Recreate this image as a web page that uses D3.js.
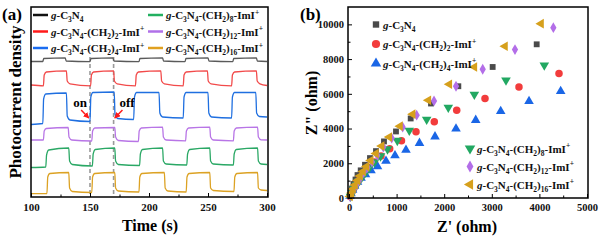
<!DOCTYPE html>
<html>
<head>
<meta charset="utf-8">
<script src="https://cdn.jsdelivr.net/npm/d3@7"></script>
<style>
  body { margin: 0; background: #fff; }
  svg text { font-family: "Liberation Serif", "Times New Roman", serif; font-weight: bold; }
</style>
</head>
<body>
<script>
'use strict';

// ---- data (a): photocurrent traces, [time s, a.u.] ----
const seriesNames = [
  "g-C3N4",
  "g-C3N4-(CH2)2-ImI+",
  "g-C3N4-(CH2)4-ImI+",
  "g-C3N4-(CH2)8-ImI+",
  "g-C3N4-(CH2)12-ImI+",
  "g-C3N4-(CH2)16-ImI+"
];
const seriesColors = ["#5a5a5a", "#f24a4a", "#1f6fe0", "#2aa865", "#b875e6", "#dca224"];
const legendColors = ["#111111", "#ff1a1a", "#1a6cf0", "#22b060", "#b070e8", "#e0a020"];

const pcGray = [[100,13.55],[110,13.55],[110.8,13.85],[129,13.92],[129.8,13.6],[150,13.53],[150.8,13.85],[169.5,13.92],[170.3,13.6],[191.5,13.53],[192.3,13.85],[211.5,13.92],[212.3,13.6],[230.5,13.53],[231.3,13.85],[250,13.92],[250.8,13.6],[271,13.53],[271.8,13.85],[291,13.92],[291.8,13.6],[300,13.55]];
const pcRed = [[100,11.2],[110.5,11.12],[111.2,12.2],[113,12.5],[130,12.62],[130.7,11.6],[133,11.32],[150.5,11.12],[151.2,12.2],[153,12.5],[170,12.62],[170.7,11.6],[173,11.32],[188.5,11.12],[189.2,12.2],[191,12.5],[210,12.62],[210.7,11.6],[213,11.32],[229,11.12],[229.7,12.2],[231.5,12.5],[249.5,12.62],[250.2,11.6],[252.5,11.32],[270,11.12],[270.7,12.2],[272.5,12.5],[291,12.62],[291.7,11.6],[294,11.32],[300,11.15]];
const pcBlue = [[100,7.25],[110,7.35],[110.7,9.8],[112.5,10.3],[130,10.4],[130.7,8.1],[133,7.7],[150,7.55],[150.7,10.0],[152.5,10.45],[170.5,10.5],[171.2,8.3],[173.5,7.85],[187,7.75],[187.7,10.0],[189.5,10.45],[208.5,10.45],[209.2,8.4],[211.5,8.0],[229,7.9],[229.7,10.0],[231.5,10.45],[250,10.45],[250.7,8.4],[253,8.0],[270,7.9],[270.7,10.0],[272.5,10.45],[290.5,10.45],[291.2,8.4],[293.5,8.05],[300,8.0]];
const pcGreen = [[100,2.95],[112.5,3.0],[113.2,4.2],[115,4.7],[132,4.9],[132.7,3.6],[135,3.25],[152,3.1],[152.7,4.3],[154.5,4.75],[171,4.9],[171.7,3.6],[174,3.25],[192,3.15],[192.7,4.3],[194.5,4.75],[211.5,4.9],[212.2,3.6],[214.5,3.3],[232,3.2],[232.7,4.3],[234.5,4.75],[251.5,4.9],[252.2,3.6],[254.5,3.3],[271.5,3.2],[272.2,4.3],[274,4.75],[292,4.9],[292.7,3.6],[295,3.3],[300,3.25]];
const pcPurple = [[100,5.7],[110.5,5.7],[111.2,6.6],[113,6.85],[131.5,6.95],[132.2,6.0],[134.5,5.7],[151.5,5.6],[152.2,6.6],[154,6.9],[171,6.95],[171.7,6.0],[174,5.65],[191,5.55],[191.7,6.6],[193.5,6.9],[211.5,6.98],[212.2,6.0],[214.5,5.7],[231,5.62],[231.7,6.6],[233.5,6.9],[251.5,6.98],[252.2,6.0],[254.5,5.7],[271.5,5.62],[272.2,6.6],[274,6.9],[292,6.98],[292.7,6.0],[295,5.72],[300,5.7]];
const pcYellow = [[100,0.33],[113.5,0.35],[114.2,2.0],[116,2.35],[132,2.45],[132.7,0.9],[135,0.55],[151.5,0.45],[152.2,2.0],[154,2.35],[171,2.45],[171.7,0.9],[174,0.6],[191.5,0.5],[192.2,2.0],[194,2.35],[213,2.45],[213.7,0.9],[216,0.6],[231.5,0.5],[232.2,2.0],[234,2.35],[251.5,2.45],[252.2,0.9],[254.5,0.65],[272,0.55],[272.7,2.0],[274.5,2.35],[292,2.45],[292.7,0.9],[295,0.7],[300,0.65]];
const pcSeries = [pcGray, pcRed, pcBlue, pcGreen, pcPurple, pcYellow];

const timeTicks = [100, 150, 200, 250, 300];
const timeMinor = [125, 175, 225, 275];
const markTimes = [150, 170];

// ---- data (b): Nyquist plots, [Z' ohm, Z'' ohm] ----
const nyGray = [[3943,8851],[3018,7546],[2297,6437],[1723,5442],[1296,4580],[987,3833],[735,3259],[567,2701],[441,2299],[336,1914],[246,1592],[179,1322],[137,1063],[95,805],[63,546],[42,316],[21,115]];
const nyRed = [[4412,7167],[3571,6397],[2857,5730],[2263,5057],[1792,4397],[1408,3810],[1103,3293],[855,2833],[672,2414],[536,2069],[420,1753],[326,1466],[252,1207],[189,977],[137,747],[95,517],[53,287],[21,86]];
const nyBlue = [[4447,6149],[3782,5575],[3187,5000],[2662,4483],[2248,3983],[1807,3534],[1481,3161],[1197,2759],[966,2443],[777,2126],[599,1810],[462,1580],[347,1351],[252,1149],[179,920],[116,690],[74,460],[42,259],[21,115]];
const nyGreen = [[4103,7644],[3298,6782],[2633,5960],[2086,5213],[1632,4523],[1267,3891],[1015,3305],[809,2816],[662,2414],[536,2069],[431,1753],[347,1466],[273,1207],[210,977],[158,747],[105,517],[63,287],[32,86]];
const nyPurple = [[4293,9810],[3487,8546],[2809,7414],[2248,6437],[1786,5592],[1422,4770],[1128,4080],[897,3448],[721,2931],[595,2454],[483,2069],[389,1753],[315,1494],[252,1236],[200,977],[147,718],[95,489],[53,259],[21,86]];
const nyYellow = [[4034,10040],[3277,8736],[2633,7546],[2107,6552],[1667,5632],[1338,4828],[1071,4138],[847,3506],[686,2989],[567,2557],[456,2155],[368,1810],[294,1523],[231,1264],[179,1006],[126,747],[84,517],[53,287],[21,86]];
const nySeries = [nyGray, nyRed, nyBlue, nyGreen, nyPurple, nyYellow];
const nyColors = ["#4a4a4a", "#f23c3c", "#1a66e6", "#22a862", "#b36ee8", "#d6a01c"];

const zxTicks = [0, 1000, 2000, 3000, 4000, 5000];
const zxMinor = [500, 1500, 2500, 3500, 4500];
const zyTicks = [0, 2000, 4000, 6000, 8000, 10000];
const zyMinor = [1000, 3000, 5000, 7000, 9000];

const svg = d3.select('body').append('svg')
  .attr('width', 600)
  .attr('height', 244);

// label with italic g, subscripts and superscript
function richLabel(sel, name, size) {
  let m = name.match(/^g-C3N4(?:-\(CH2\)(\d+)-ImI\+)?$/);
  let parts = [["g", "i"], ["-C", ""], ["3", "sub"], ["N", ""], ["4", "sub"]];
  if (m[1]) {
    parts = parts.concat([["-(CH", ""], ["2", "sub"], [")", ""], [m[1], "sub"], ["-ImI", ""], ["+", "sup"]]);
  }
  let shift = 0;
  parts.forEach(([txt, kind]) => {
    let target = kind == "sub" ? size * 0.28 : (kind == "sup" ? -size * 0.38 : 0);
    let t = sel.append('tspan')
      .attr('dy', target - shift)
      .text(txt);
    shift = target;
    if (kind == "i") t.style('font-style', 'italic');
    if (kind == "sub" || kind == "sup") t.style('font-size', (size * 0.68) + 'px');
  });
}

// ================= panel (a) =================
const ax = d3.scaleLinear().domain([100, 300]).range([31, 267]);
const ay = d3.scaleLinear().domain([0, 19]).range([197, 7]);

const gA = svg.append('g');

// dashed on/off markers
gA.selectAll('.mark')
  .data(markTimes)
  .enter()
  .append('line')
    .attr('x1', d => ax(d)).attr('x2', d => ax(d))
    .attr('y1', ay(14.0)).attr('y2', ay(0))
    .attr('stroke', '#9a9a9a')
    .attr('stroke-width', 1.6)
    .attr('stroke-dasharray', '4,3');

let line = d3.line()
  .x(d => ax(d[0]))
  .y(d => ay(d[1]))
  .curve(d3.curveMonotoneX);

pcSeries.forEach((s, i) => {
  gA.append('path')
    .datum(s)
    .attr('fill', 'none')
    .attr('stroke', seriesColors[i])
    .attr('stroke-width', 1.3)
    .attr('d', line);
});

// axes
gA.append('g')
  .attr('transform', 'translate(0,197)')
  .call(d3.axisBottom(ax).tickValues(timeTicks).tickSize(-4).tickPadding(6))
  .call(g => g.select('.domain').remove())
  .call(g => g.selectAll('text').style('font-size', '11px').attr('fill', '#111'));
gA.append('g')
  .attr('transform', 'translate(0,197)')
  .call(d3.axisBottom(ax).tickValues(timeMinor).tickSize(-2.5).tickFormat(''))
  .call(g => g.select('.domain').remove());

gA.append('rect')
  .attr('x', 31).attr('y', 7)
  .attr('width', 237).attr('height', 190)
  .attr('fill', 'none')
  .attr('stroke', '#000')
  .attr('stroke-width', 1.5);

// legend
seriesNames.forEach((name, i) => {
  let col = Math.floor(i / 3), row = i % 3;
  let lx = col == 0 ? 33 : 148;
  let ly = 15 + row * 16.5;
  gA.append('line')
    .attr('x1', lx).attr('x2', lx + 15)
    .attr('y1', ly).attr('y2', ly)
    .attr('stroke', legendColors[i])
    .attr('stroke-width', 2.5);
  let t = gA.append('text')
    .attr('x', lx + 18).attr('y', ly + 4)
    .style('font-size', '11px')
    .attr('fill', '#111');
  richLabel(t, name, 11);
});

// on / off annotation
gA.append('text').attr('x', 80).attr('y', 107)
  .attr('text-anchor', 'middle').style('font-size', '13px').text('on');
gA.append('text').attr('x', 127).attr('y', 107)
  .attr('text-anchor', 'middle').style('font-size', '13px').text('off');
svg.append('defs').append('marker')
  .attr('id', 'arr')
  .attr('viewBox', '0 0 10 10')
  .attr('refX', 9).attr('refY', 5)
  .attr('markerWidth', 4).attr('markerHeight', 4)
  .attr('orient', 'auto')
  .append('path').attr('d', 'M0,0L10,5L0,10z').attr('fill', '#ff1a1a');
gA.append('line')
  .attr('x1', ax(142.5)).attr('y1', 110).attr('x2', ax(149)).attr('y2', 118)
  .attr('stroke', '#ff1a1a').attr('stroke-width', 1.5).attr('marker-end', 'url(#arr)');
gA.append('line')
  .attr('x1', ax(177.5)).attr('y1', 110).attr('x2', ax(171)).attr('y2', 118)
  .attr('stroke', '#ff1a1a').attr('stroke-width', 1.5).attr('marker-end', 'url(#arr)');

gA.append('text').attr('x', 150).attr('y', 231)
  .attr('text-anchor', 'middle').style('font-size', '16px').text('Time (s)');
gA.append('text')
  .attr('transform', 'translate(21,102)rotate(-90)')
  .attr('text-anchor', 'middle').style('font-size', '17px').text('Photocurrent density');
gA.append('text').attr('x', 2).attr('y', 20).style('font-size', '17px').text('(a)');

// ================= panel (b) =================
const bx = d3.scaleLinear().domain([0, 5000]).range([349, 587]);
const by = d3.scaleLinear().domain([0, 11000]).range([198, 7]);
const gB = svg.append('g');

const symbols = [
  { type: d3.symbolSquare, size: 34, rot: 0 },
  { type: d3.symbolCircle, size: 44, rot: 0 },
  { type: d3.symbolTriangle, size: 40, rot: 0 },
  { type: d3.symbolTriangle, size: 40, rot: 180 },
  { type: d3.symbolDiamond, size: 34, rot: 0 },
  { type: d3.symbolTriangle, size: 40, rot: -90 }
];

nySeries.forEach((s, i) => {
  let sym = symbols[i];
  gB.selectAll('.pt' + i)
    .data(s)
    .enter()
    .append('path')
      .attr('d', d3.symbol().type(sym.type).size(sym.size))
      .attr('transform', d => `translate(${bx(d[0])},${by(d[1])})rotate(${sym.rot})`)
      .attr('fill', nyColors[i]);
});

gB.append('g')
  .attr('transform', 'translate(0,198)')
  .call(d3.axisBottom(bx).tickValues(zxTicks).tickSize(-4).tickPadding(6).tickFormat(d3.format('d')))
  .call(g => g.select('.domain').remove())
  .call(g => g.selectAll('text').style('font-size', '10.5px').attr('fill', '#111'));
gB.append('g')
  .attr('transform', 'translate(0,198)')
  .call(d3.axisBottom(bx).tickValues(zxMinor).tickSize(-2.5).tickFormat(''))
  .call(g => g.select('.domain').remove());
gB.append('g')
  .attr('transform', 'translate(348,0)')
  .call(d3.axisLeft(by).tickValues(zyTicks).tickSize(-4).tickPadding(4).tickFormat(d3.format('d')))
  .call(g => g.select('.domain').remove())
  .call(g => g.selectAll('text').style('font-size', '10.5px').attr('fill', '#111'));
gB.append('g')
  .attr('transform', 'translate(348,0)')
  .call(d3.axisLeft(by).tickValues(zyMinor).tickSize(-2.5).tickFormat(''))
  .call(g => g.select('.domain').remove());

gB.append('rect')
  .attr('x', 348).attr('y', 7)
  .attr('width', 240).attr('height', 191)
  .attr('fill', 'none')
  .attr('stroke', '#000')
  .attr('stroke-width', 1.5);

// legends
seriesNames.forEach((name, i) => {
  let lx = i < 3 ? 376 : 470;
  let ly = i < 3 ? 24.5 + i * 19.5 : 148.5 + (i - 3) * 18;
  let sym = symbols[i];
  gB.append('path')
    .attr('d', d3.symbol().type(sym.type).size(sym.size * 1.2))
    .attr('transform', `translate(${lx},${ly})rotate(${sym.rot})`)
    .attr('fill', nyColors[i]);
  let t = gB.append('text')
    .attr('x', lx + 7).attr('y', ly + 4)
    .style('font-size', '11px')
    .attr('fill', '#111');
  richLabel(t, name, 11);
});

gB.append('text').attr('x', 467).attr('y', 232)
  .attr('text-anchor', 'middle').style('font-size', '16px').text("Z' (ohm)");
gB.append('text')
  .attr('transform', 'translate(317,103)rotate(-90)')
  .attr('text-anchor', 'middle').style('font-size', '16px').text('Z" (ohm)');
gB.append('text').attr('x', 300).attr('y', 20).style('font-size', '17px').text('(b)');
</script>
</body>
</html>
